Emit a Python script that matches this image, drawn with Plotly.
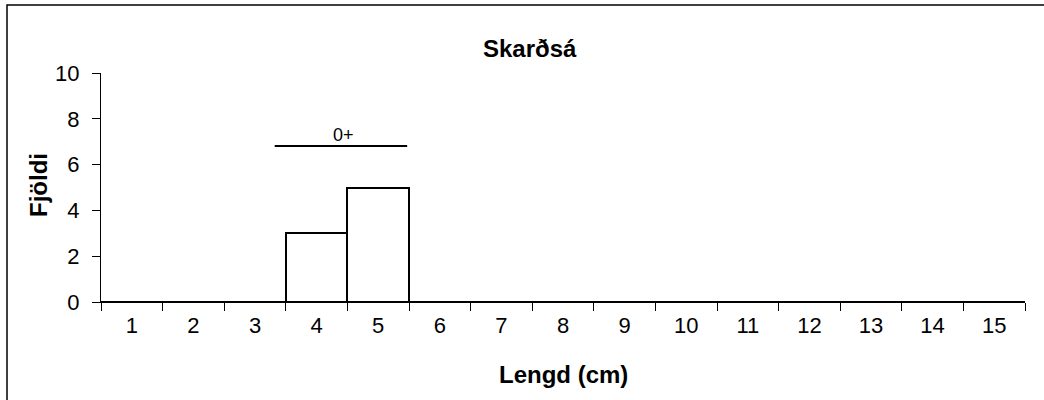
import plotly.graph_objects as go

lengths = [str(i) for i in range(1, 16)]
counts = [0, 0, 0, 3, 5, 0, 0, 0, 0, 0, 0, 0, 0, 0, 0]
title = "Skarðsá"
x_title = "Lengd (cm)"
y_title = "Fjöldi"
group_label = "0+"

FONT = "Liberation Sans, Arial, sans-serif"

fig = go.Figure()
fig.add_trace(go.Bar(
    x=lengths, y=counts,
    marker=dict(color="white", line=dict(color="black", width=2)),
    width=1.0, hoverinfo="skip",
))

W, H = 1044, 400
L, T = 101, 73
R = W - 1025
B = H - 302
pw, ph = W - L - R, H - T - B

def px2paperx(px):
    return (px - L) / pw

def py2papery(py):
    return 1 - (py - T) / ph

fig.update_layout(
    width=W, height=H,
    margin=dict(l=L, r=R, t=T, b=B, pad=0),
    paper_bgcolor="white", plot_bgcolor="white",
    bargap=0, showlegend=False,
    font=dict(family=FONT, color="black", size=22),
)
fig.update_xaxes(
    type="category", tickson="boundaries", ticks="outside", ticklen=8,
    tickcolor="black", tickwidth=1, showline=True, linecolor="black", linewidth=1,
    showgrid=False, zeroline=False, tickfont=dict(size=22, family=FONT),
    ticklabelstandoff=4,
)
fig.update_yaxes(
    range=[0, 10], dtick=2, ticks="outside", ticklen=8, tickcolor="black",
    showline=True, linecolor="black", linewidth=1, showgrid=False, zeroline=False,
    tickfont=dict(size=22, family=FONT), ticklabelstandoff=8,
)

# chart border
fig.add_shape(type="rect", xref="paper", yref="paper",
              x0=px2paperx(7), x1=px2paperx(1070), y0=py2papery(430), y1=py2papery(5),
              line=dict(color="black", width=1.5), fillcolor="rgba(0,0,0,0)")

# group line
fig.add_shape(type="line", xref="x", yref="y", x0=2.32, x1=4.47, y0=6.81, y1=6.81,
              line=dict(color="black", width=2))
fig.add_annotation(x=3.44, y=7.3, xref="x", yref="y", text=group_label, showarrow=False,
                   xanchor="center", yanchor="middle", font=dict(size=18, family=FONT))

fig.add_annotation(x=px2paperx(530), y=py2papery(48), xref="paper", yref="paper",
                   text="<b>" + title + "</b>", showarrow=False,
                   xanchor="center", yanchor="middle", font=dict(size=24, family=FONT))
fig.add_annotation(x=px2paperx(563), y=py2papery(374), xref="paper", yref="paper",
                   text="<b>" + x_title + "</b>", showarrow=False,
                   xanchor="center", yanchor="middle", font=dict(size=24, family=FONT))
fig.add_annotation(x=px2paperx(38), y=py2papery(185), xref="paper", yref="paper",
                   text="<b>" + y_title + "</b>", showarrow=False, textangle=-90,
                   xanchor="center", yanchor="middle", font=dict(size=24, family=FONT))

fig.write_html("out.html", config={"displayModeBar": False},
               post_script="document.body.style.margin='0';")
